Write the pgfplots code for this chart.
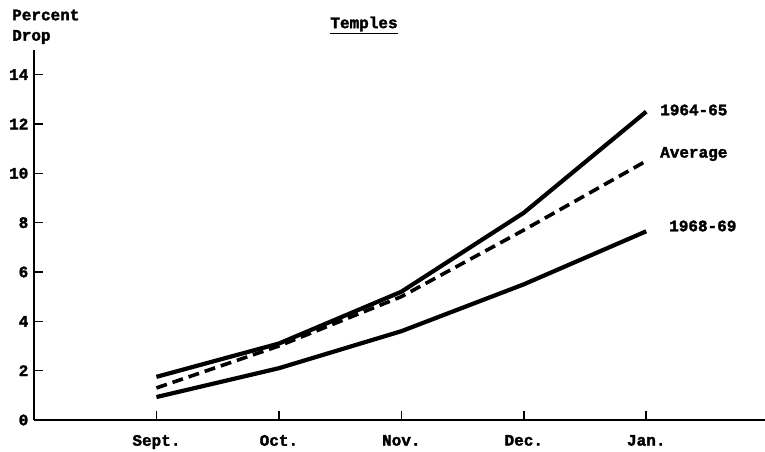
\documentclass[border=0pt]{standalone}
\usepackage{pgfplots}
\pgfplotsset{compat=1.18}
\usepackage{fontspec}
\setmainfont{Liberation Mono}[BoldFeatures={FakeBold=2}]
\newcommand{\tf}{\fontsize{16}{19}\selectfont\bfseries}
\begin{document}
\begin{tikzpicture}
\begin{axis}[
  scale only axis, width=731pt, height=370pt,
  at={(34pt,32pt)}, anchor=south west,
  xmin=-1, xmax=4.97, ymin=0, ymax=15,
  axis x line=bottom, axis y line=left,
  axis line style={-, line width=2.4pt},
  xtick={0,1,2,3,4},
  xticklabels={Sept.,Oct.,Nov.,Dec.,Jan.},
  ytick={0,2,4,6,8,10,12,14},
  yticklabels={0,2,4,6,8,10,12,14},
  major tick length=9pt,
  tick style={line width=1.6pt, black},
  x tick style={yshift=4.5pt},
  y tick style={xshift=4.5pt},
  ticklabel style={font=\tf},
  yticklabel style={inner sep=1pt},
  xticklabel style={yshift=-7pt},
  clip=false,
]
\addplot[black, line width=4.2pt] coordinates {(0,1.75) (1,3.1) (2,5.2) (3,8.4) (4,12.5)};
\addplot[black, line width=3.6pt, dash pattern=on 11pt off 6pt] coordinates {(0,1.3) (1,3.0) (2,5.0) (3,7.7) (4,10.5)};
\addplot[black, line width=4.2pt] coordinates {(0,0.93) (1,2.1) (2,3.6) (3,5.5) (4,7.65)};
\end{axis}
\node[anchor=west, inner sep=0pt, font=\tf] at (660pt,{(452-110)*1pt}) {1964-65};
\node[anchor=west, inner sep=0pt, font=\tf] at (660pt,{(452-154)*1pt}) {Average};
\node[anchor=west, inner sep=0pt, font=\tf] at (669pt,{(452-226)*1pt}) {1968-69};
\node[anchor=west, inner sep=0pt, font=\tf] at (12pt,{(452-15)*1pt}) {Percent};
\node[anchor=west, inner sep=0pt, font=\tf] at (12pt,{(452-37)*1pt}) {Drop};
\node[anchor=center, inner sep=0pt, font=\tf] at (364pt,{(452-25)*1pt}) {\underline{Temples}};
\pgfresetboundingbox
\useasboundingbox (0,0) rectangle (765pt,452pt);
\end{tikzpicture}
\end{document}
